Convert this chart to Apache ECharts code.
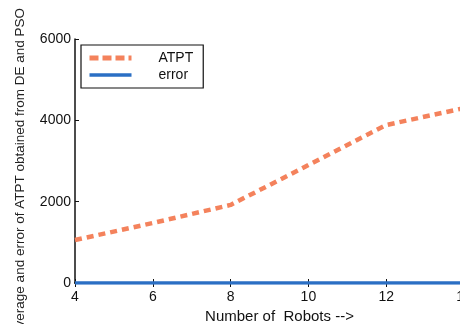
<!DOCTYPE html>
<html><head><meta charset="utf-8">
<script src="https://cdn.jsdelivr.net/npm/echarts@6/dist/echarts.min.js"></script>
<style>html,body{margin:0;padding:0;background:#fff}#c{width:460px;height:324px}</style>
</head><body><div id="c"></div>
<script>
const robots = [4, 6, 8, 10, 12, 14];
const atpt = [1057, 1475, 1920, 2900, 3885, 4300];
const errorVals = [0, 0, 0, 0, 0, 0];
const seriesNames = ['ATPT', 'error'];
const xTitle = 'Number of  Robots -->';
const yTitle = 'Average and error of ATPT obtained from DE and PSO';

const font = 'Liberation Sans, Arial, sans-serif';
const chart = echarts.init(document.getElementById('c'), null, {renderer: 'canvas'});
chart.setOption({
  backgroundColor: '#fff',
  animation: false,
  grid: {left: 75, right: -4, top: 39, bottom: 41, containLabel: false, outerBoundsMode: 'none'},
  legend: {
    orient: 'vertical', left: 81, top: 45,
    borderColor: '#111', borderWidth: 1.2, borderRadius: 0,
    padding: [6, 10, 6, 6], itemGap: 3,
    itemWidth: 42, itemHeight: 14,
    itemStyle: {opacity: 0},
    textStyle: {fontFamily: font, fontSize: 14, color: '#111', padding: [0, 0, 0, 22]},
    data: [
      {name: seriesNames[0], lineStyle: {width: 5, type: [9, 4]}},
      {name: seriesNames[1], lineStyle: {width: 3.5}}
    ]
  },
  xAxis: [{
    type: 'value', min: 4, max: 14, interval: 2,
    name: xTitle, nameLocation: 'middle', nameGap: 22,
    nameTextStyle: {fontFamily: font, fontSize: 15, color: '#111', padding: [0, 0, 0, 20]},
    axisLine: {show: true, onZero: false, lineStyle: {color: '#111', width: 1.5}},
    axisTick: {show: true, inside: true, length: 4, lineStyle: {color: '#111'}},
    axisLabel: {fontFamily: font, fontSize: 14, color: '#111', margin: 7},
    splitLine: {show: false}
  }, {
    type: 'value', min: 4, max: 14, interval: 2, position: 'top',
    axisLine: {show: true, lineStyle: {color: '#111', width: 1.5}},
    axisTick: {show: true, inside: true, length: 4, lineStyle: {color: '#111'}},
    axisLabel: {show: false}, splitLine: {show: false}
  }],
  yAxis: {
    type: 'value', min: 0, max: 6000, interval: 2000,
    axisLine: {show: true, lineStyle: {color: '#111', width: 1.5}},
    axisTick: {show: true, inside: true, length: 4, lineStyle: {color: '#111'}},
    axisLabel: {fontFamily: font, fontSize: 14, color: '#111', margin: 4,
      formatter: v => String(v)},
    splitLine: {show: false}
  },
  graphic: [{
    type: 'text', x: 20, y: 8, rotation: Math.PI / 2,
    style: {text: yTitle, fontFamily: font, fontSize: 13.5, fill: '#222',
      align: 'right', verticalAlign: 'middle'}
  }],
  series: [{
    name: seriesNames[0], type: 'line', symbol: 'none',
    data: robots.map((r, i) => [r, atpt[i]]),
    lineStyle: {color: '#f4825c', width: 4.5, type: [7, 5]},
    itemStyle: {color: '#f4825c'}, z: 3
  }, {
    name: seriesNames[1], type: 'line', symbol: 'none',
    data: robots.map((r, i) => [r, errorVals[i]]),
    lineStyle: {color: '#2b6fc4', width: 3.5},
    itemStyle: {color: '#2b6fc4'}, z: 4
  }]
});
</script></body></html>
